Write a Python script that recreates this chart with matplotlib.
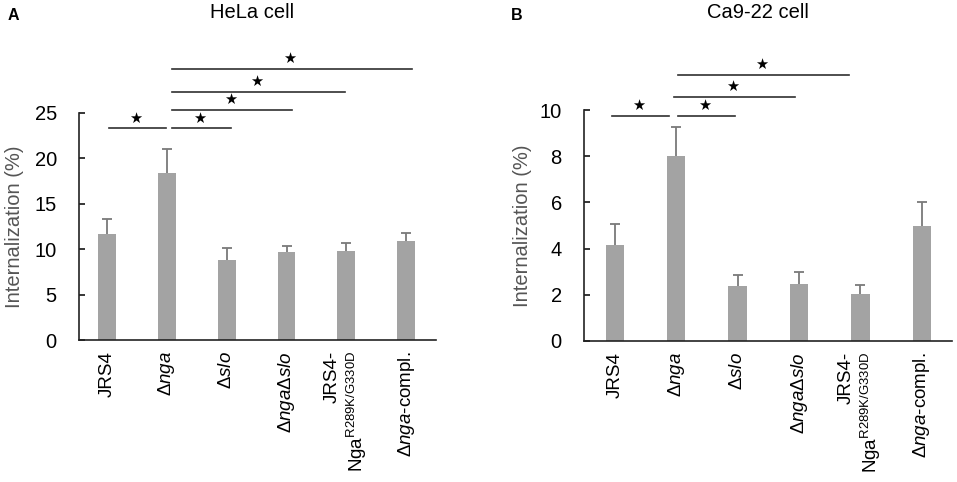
import matplotlib
matplotlib.use("Agg")
import matplotlib.pyplot as plt
import numpy as np

plt.rcParams['font.family'] = ['Liberation Sans', 'DejaVu Sans']
plt.rcParams['mathtext.fontset'] = 'custom'
plt.rcParams['mathtext.rm'] = 'Liberation Sans'
plt.rcParams['mathtext.it'] = 'Liberation Sans:italic'
plt.rcParams['mathtext.sf'] = 'Liberation Sans'

categories = ['JRS4', 'Δ$\\mathit{nga}$', 'Δ$\\mathit{slo}$', 'Δ$\\mathit{nga}$Δ$\\mathit{slo}$',
              'JRS4-\nNga$^{\\mathrm{R289K/G330D}}$', 'Δ$\\mathit{nga}$-compl.']

hela_mean = [11.7, 18.4, 8.8, 9.7, 9.8, 10.9]
hela_err = [1.6, 2.6, 1.35, 0.65, 0.9, 0.85]
ca922_mean = [4.16, 8.03, 2.38, 2.46, 2.05, 5.0]
ca922_err = [0.9, 1.22, 0.47, 0.53, 0.39, 1.03]

hela_ticks = [0, 5, 10, 15, 20, 25]
ca922_ticks = [0, 2, 4, 6, 8, 10]

# significance comparisons: (start, end, height)
hela_sig = [(0.03, 0.98, 23.3), (1.08, 2.07, 23.3), (1.08, 3.1, 25.3), (1.08, 3.98, 27.35), (1.08, 5.1, 29.9)]
ca922_sig = [(-0.04, 0.88, 9.73), (1.03, 1.96, 9.73), (0.97, 2.93, 10.55), (1.03, 3.81, 11.52)]

W, H = 957, 482
fig = plt.figure(figsize=(W / 100, H / 100), dpi=100)

bar_color = '#a3a3a3'
err_color = '#7a7a7a'
line_color = '#303030'
FS = 14.5


def panel(rect, means, errs, ticks, ylim, xlim, sig, title, title_x, letter, letter_x, ylab_x):
    ax = fig.add_axes(rect)
    x = np.arange(len(means))
    ax.bar(x, means, width=0.3, color=bar_color, zorder=2)
    eb = ax.errorbar(x, means, yerr=[np.zeros(len(errs)), errs], fmt='none', ecolor=err_color,
                     elinewidth=1.3, capsize=3.6, capthick=1.3, zorder=1)
    caps = eb.lines[1]
    if len(caps) == 2:
        caps[0].set_visible(False)
    ax.set_ylim(*ylim)
    ax.set_xlim(*xlim)
    ax.set_yticks(ticks)
    ax.set_yticklabels([str(t) for t in ticks])
    ax.set_xticks(x)
    ax.set_xticklabels(categories, rotation=90, va='top', ha='center', multialignment='right')
    ax.tick_params(axis='y', direction='in', length=4, width=1.1, pad=16, labelsize=FS, colors='black')
    ax.tick_params(axis='x', length=0, pad=8, labelsize=13.5)
    for s in ['top', 'right']:
        ax.spines[s].set_visible(False)
    for s in ['left', 'bottom']:
        ax.spines[s].set_linewidth(1.2)
        ax.spines[s].set_color('#222222')
    ax.set_ylabel('Internalization (%)', fontsize=FS, color='#555555')
    ax.yaxis.set_label_coords(ylab_x, 0.5)
    for (x0, x1, h) in sig:
        ax.plot([x0, x1], [h, h], color=line_color, lw=1.2, clip_on=False, zorder=3)
        ax.annotate('★', xy=((x0 + x1) / 2 - 0.03, h), xytext=(0, 7.5), textcoords='offset points',
                    ha='center', va='center', fontsize=10.5, family='DejaVu Sans', annotation_clip=False)
    fig.text(title_x, 1 - 13 / H, title, ha='center', va='center', fontsize=FS)
    fig.text(letter_x, 1 - 15 / H, letter, ha='left', va='center', fontsize=11.5, fontweight='bold')
    return ax


panel([79 / W, 1 - 340 / H, (436 - 79) / W, (340 - 113) / H], hela_mean, hela_err, hela_ticks,
      (0, 25), (-0.47, 5.5), hela_sig, 'HeLa cell', 252 / W, 'A', 8 / W, -0.155)
panel([584 / W, 1 - 341 / H, (952 - 584) / W, (341 - 110) / H], ca922_mean, ca922_err, ca922_ticks,
      (0, 10), (-0.5, 5.49), ca922_sig, 'Ca9-22 cell', 758 / W, 'B', 511 / W, -0.14)

fig.savefig('out.png', dpi=100)
